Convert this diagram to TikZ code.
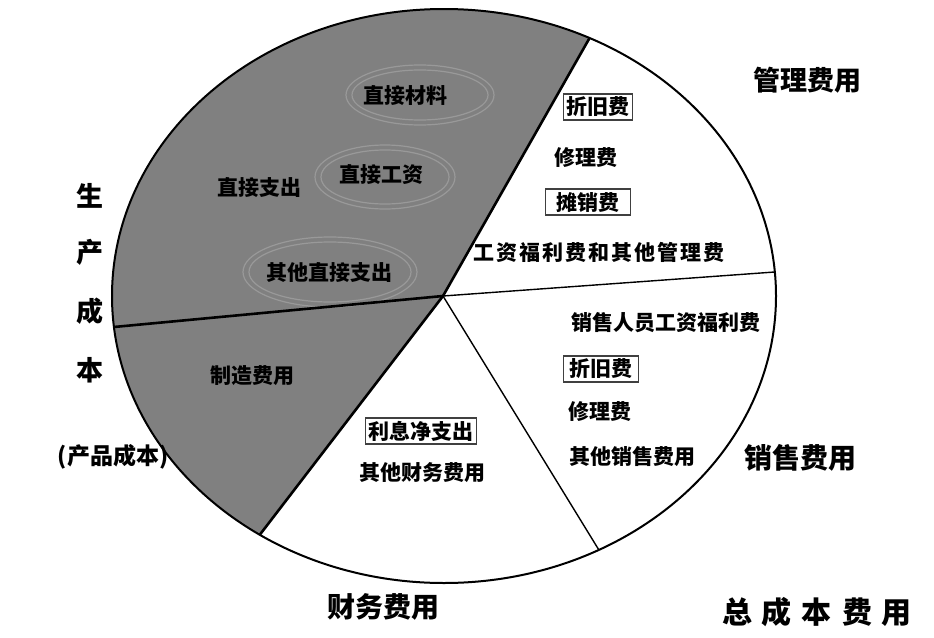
\documentclass[tikz,border=0pt]{standalone}
\usepackage{fontspec}
\newfontfamily\cjk{Noto Sans CJK SC}
\newfontfamily\cjkwide{Noto Sans CJK SC}[LetterSpace=10]
\begin{document}
\begin{tikzpicture}[x=1pt,y=-1pt,
  lbl/.style={font=\cjk\bfseries\fontsize{21}{21}\selectfont, inner sep=0pt, text=black},
  boxed/.style={lbl, draw=black!75, line width=1.3pt, inner xsep=3pt, inner ysep=3pt},
  big/.style={font=\cjk\bfseries\fontsize{27}{27}\selectfont, inner sep=0pt, text=black},
  halo/.style={draw=black!40, line width=1.2pt},
  heavy/.style={line width=2.6pt, black},
  thin/.style={line width=1.4pt, black},
  rim/.style={line width=2pt, black}]
\useasboundingbox (0,0) rectangle (934,637);
\fill[white] (0,0) rectangle (934,637);
% centre and rim points
\coordinate (C) at (444,296);
\coordinate (O) at (443,296);
\coordinate (P1) at ([shift={(444,296)}]-64:332 and 287);
\coordinate (P2) at ([shift={(444,296)}]-4.8:332 and 287);
\coordinate (P3) at ([shift={(444,296)}]62.2:332 and 287);
\coordinate (P4) at ([shift={(444,296)}]123.7:332 and 287);
\coordinate (P5) at ([shift={(444,296)}]173.8:332 and 287);
% shaded production-cost sector
\fill[black!50] (O) -- (P1) arc[start angle=-64, end angle=-236.3, x radius=332, y radius=287] -- cycle;
% faint rings in shaded sector
\draw[halo] (420,95) ellipse[x radius=74, y radius=30];
\draw[halo] (420,95) ellipse[x radius=68, y radius=25];
\draw[halo] (385,177) ellipse[x radius=70, y radius=32];
\draw[halo] (385,177) ellipse[x radius=64, y radius=27];
\draw[halo] (330,272) ellipse[x radius=87, y radius=35];
\draw[halo] (330,272) ellipse[x radius=81, y radius=30];
% rim
\draw[rim] (C) ellipse[x radius=332, y radius=287];
% dividers
\draw[heavy] (O) -- (P1);
\draw[heavy] (O) -- (P5);
\draw[heavy] (O) -- (P4);
\draw[thin] (O) -- (P2);
\draw[thin] (O) -- (P3);
% production cost items
\node[lbl] (zjcl) at (405,95) {直接材料};
\node[lbl] (zjgz) at (381,174) {直接工资};
\node[lbl] (zjzc) at (259,187) {直接支出};
\node[lbl] (qtzj) at (329,272) {其他直接支出};
\node[lbl] (zzfy) at (252,376) {制造费用};
% administration items
\node[boxed] (zjf1) at (598,107) {折旧费};
\node[lbl] (xlf1) at (586,158) {修理费};
\node[boxed, inner xsep=11pt] (txf) at (588,202) {摊销费};
\node[lbl, font=\cjkwide\bfseries\fontsize{21}{21}\selectfont] (gzfl) at (599,252) {工资福利费和其他管理费};
% selling items
\node[lbl] (xsry) at (666,323) {销售人员工资福利费};
\node[boxed, inner xsep=6pt] (zjf2) at (601,369) {折旧费};
\node[lbl] (xlf2) at (600,412) {修理费};
\node[lbl] (qtxs) at (632,457) {其他销售费用};
% finance items
\node[boxed] (lxjz) at (421,431) {利息净支出};
\node[lbl] (qtcw) at (422,473) {其他财务费用};
% outer labels
\node[big] (glfy) at (807,80) {管理费用};
\node[big, font=\cjk\bfseries\fontsize{28}{28}\selectfont] (xsfy) at (800,458) {销售费用};
\node[big, font=\cjk\bfseries\fontsize{28}{28}\selectfont] (cwfy) at (383,607) {财务费用};
\node[big, font=\cjk\bfseries\fontsize{30}{30}\selectfont] (zcb) at (817,612) {总\hspace{10pt}成\hspace{10pt}本\hspace{10pt}费\hspace{10pt}用};
\node[big] (s1) at (90,196) {生};
\node[big] (s2) at (90,252) {产};
\node[big] (s3) at (90,311) {成};
\node[big] (s4) at (90,370) {本};
\node[big, font=\cjk\bfseries\fontsize{23}{23}\selectfont] (cpcb) at (113,457) {(产品成本)};
\end{tikzpicture}
\end{document}
